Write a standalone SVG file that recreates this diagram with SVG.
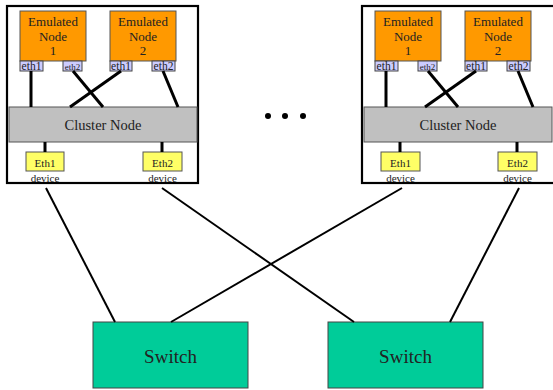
<svg xmlns="http://www.w3.org/2000/svg" width="553" height="390" viewBox="0 0 553 390">
<style>
text{font-family:"Liberation Serif","Times New Roman",serif;fill:#222;text-anchor:middle}
.outer{fill:#fff;stroke:#000;stroke-width:2.2}
.emu{fill:#ff9900;stroke:#555;stroke-width:1}
.eth{fill:#ccccff;stroke:#444;stroke-width:1}
.clu{fill:#c0c0c0;stroke:#555;stroke-width:1}
.dev{fill:#ffff66;stroke:#555;stroke-width:1}
.sw{fill:#00cc99;stroke:#444;stroke-width:1}
.in{stroke:#000;stroke-width:3}
.ln{stroke:#000;stroke-width:2}
.t13{font-size:13px}
.tl{font-size:11.5px}
.ts{font-size:9px}
.e{font-size:11px}
</style>
<g id="host-left">
<rect class="outer" x="7" y="6" width="191" height="177"/>
<g id="emu-left-1">
<rect class="emu" x="20" y="11" width="66" height="50"/>
<text class="t13" x="53" y="26">Emulated</text>
<text class="t13" x="53" y="40.5">Node</text>
<text class="t13" x="53" y="55">1</text>
<rect class="eth" x="20" y="61" width="23" height="10"/>
<text class="tl" x="31.5" y="70">eth1</text>
<rect class="eth" x="63" y="61" width="19" height="10"/>
<text class="ts" x="72.5" y="69.5">eth2</text>
</g>
<g id="emu-left-2">
<rect class="emu" x="110" y="11" width="66" height="50"/>
<text class="t13" x="143" y="26">Emulated</text>
<text class="t13" x="143" y="40.5">Node</text>
<text class="t13" x="143" y="55">2</text>
<rect class="eth" x="110" y="61" width="22" height="10"/>
<text class="tl" x="121" y="70">eth1</text>
<rect class="eth" x="152" y="61" width="23" height="10"/>
<text class="tl" x="163.5" y="70">eth2</text>
</g>
<g id="cluster-left">
<rect class="clu" x="9" y="107" width="188" height="35"/>
<text x="103" y="129.5" style="font-size:14.5px">Cluster Node</text>
</g>
<g id="dev-left-1">
<rect class="dev" x="26" y="152" width="38" height="19"/>
<text class="e" x="45" y="166.5">Eth1</text>
<text class="e" x="45" y="181.5">device</text>
</g>
<g id="dev-left-2">
<rect class="dev" x="143" y="152" width="39" height="19"/>
<text class="e" x="162.5" y="166.5">Eth2</text>
<text class="e" x="162.5" y="181.5">device</text>
</g>
</g>
<g id="host-right">
<rect class="outer" x="362" y="6" width="200" height="177"/>
<g id="emu-right-1">
<rect class="emu" x="375" y="11" width="66" height="50"/>
<text class="t13" x="408" y="26">Emulated</text>
<text class="t13" x="408" y="40.5">Node</text>
<text class="t13" x="408" y="55">1</text>
<rect class="eth" x="375" y="61" width="23" height="10"/>
<text class="tl" x="386.5" y="70">eth1</text>
<rect class="eth" x="418" y="61" width="19" height="10"/>
<text class="ts" x="427.5" y="69.5">eth2</text>
</g>
<g id="emu-right-2">
<rect class="emu" x="465" y="11" width="66" height="50"/>
<text class="t13" x="498" y="26">Emulated</text>
<text class="t13" x="498" y="40.5">Node</text>
<text class="t13" x="498" y="55">2</text>
<rect class="eth" x="465" y="61" width="22" height="10"/>
<text class="tl" x="476" y="70">eth1</text>
<rect class="eth" x="507" y="61" width="23" height="10"/>
<text class="tl" x="518.5" y="70">eth2</text>
</g>
<g id="cluster-right">
<rect class="clu" x="364" y="107" width="188" height="35"/>
<text x="458" y="129.5" style="font-size:14.5px">Cluster Node</text>
</g>
<g id="dev-right-1">
<rect class="dev" x="381" y="152" width="39" height="19"/>
<text class="e" x="400.5" y="166.5">Eth1</text>
<text class="e" x="400.5" y="181.5">device</text>
</g>
<g id="dev-right-2">
<rect class="dev" x="498" y="152" width="39" height="19"/>
<text class="e" x="517.5" y="166.5">Eth2</text>
<text class="e" x="517.5" y="181.5">device</text>
</g>
</g>
<g id="switch-1">
<rect class="sw" x="93" y="322" width="155" height="66"/>
<text x="170.5" y="363" style="font-size:19px">Switch</text>
</g>
<g id="switch-2">
<rect class="sw" x="328" y="322" width="155" height="66"/>
<text x="405.5" y="363" style="font-size:19px">Switch</text>
</g>
<g id="ellipsis">
<circle cx="268" cy="116" r="3"/>
<circle cx="285" cy="116" r="3"/>
<circle cx="303" cy="116" r="3"/>
</g>
<g id="connectors">
<line class="in" x1="31" y1="71" x2="31" y2="107"/>
<line class="in" x1="73" y1="71" x2="103" y2="107"/>
<line class="in" x1="121" y1="71" x2="70" y2="107"/>
<line class="in" x1="163" y1="71" x2="178" y2="107"/>
<line class="in" x1="45" y1="142" x2="45" y2="152"/>
<line class="in" x1="162" y1="142" x2="162" y2="152"/>
<line class="in" x1="386" y1="71" x2="386" y2="107"/>
<line class="in" x1="428" y1="71" x2="458" y2="107"/>
<line class="in" x1="476" y1="71" x2="425" y2="107"/>
<line class="in" x1="518" y1="71" x2="533" y2="107"/>
<line class="in" x1="400" y1="142" x2="400" y2="152"/>
<line class="in" x1="517" y1="142" x2="517" y2="152"/>
<line class="ln" x1="46" y1="188" x2="115" y2="322"/>
<line class="ln" x1="162" y1="188" x2="354" y2="322"/>
<line class="ln" x1="402" y1="188" x2="171" y2="322"/>
<line class="ln" x1="519" y1="188" x2="450" y2="322"/>
</g>
</svg>
